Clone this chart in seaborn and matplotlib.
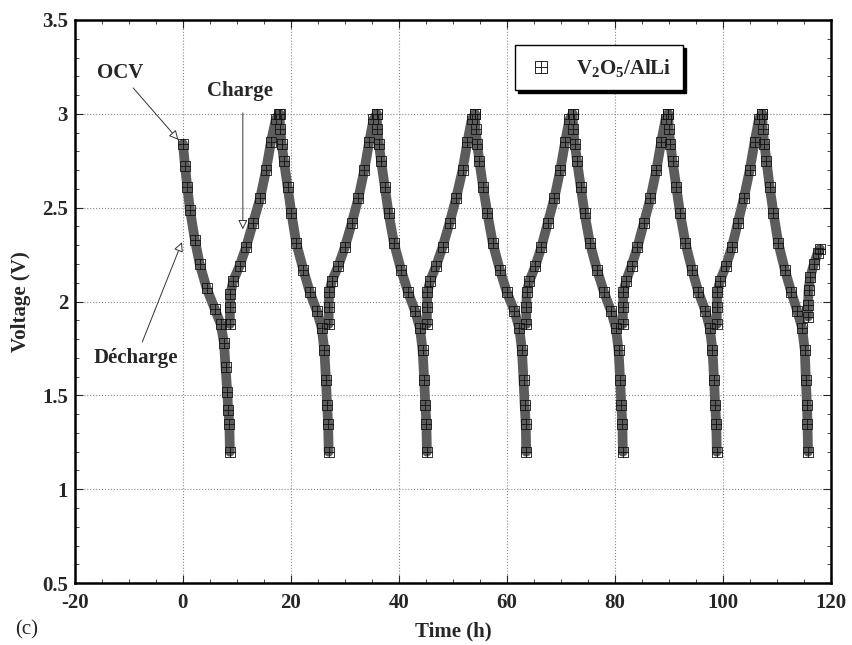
import pandas as pd
import seaborn as sns
import matplotlib.pyplot as plt
from matplotlib.path import Path
from matplotlib.lines import Line2D
from matplotlib.ticker import MultipleLocator

# each inner list = one half cycle (discharge, charge, discharge, ...)
time_h = [
    [0.0, 0.4, 0.8, 1.3, 2.2, 3.1, 4.4, 5.9, 7.0, 7.6, 7.9, 8.2, 8.4, 8.6, 8.7],
    [8.7, 8.7, 8.8, 9.3, 10.5, 11.7, 13.0, 14.3, 15.4, 16.3, 17.2, 17.8],
    [17.9, 18.0, 18.3, 18.7, 19.4, 20.1, 21.0, 22.3, 23.5, 24.8, 25.7, 26.2, 26.5, 26.7, 26.9, 27.0],
    [27.0, 27.0, 27.1, 27.6, 28.8, 30.0, 31.3, 32.5, 33.6, 34.5, 35.3, 35.9],
    [35.9, 36.0, 36.3, 36.7, 37.4, 38.1, 39.1, 40.4, 41.7, 43.0, 43.9, 44.4, 44.7, 44.9, 45.1, 45.2],
    [45.2, 45.2, 45.3, 45.8, 46.9, 48.1, 49.4, 50.6, 51.8, 52.7, 53.5, 54.1],
    [54.1, 54.2, 54.5, 54.9, 55.6, 56.4, 57.4, 58.7, 60.0, 61.4, 62.3, 62.8, 63.1, 63.3, 63.5, 63.6],
    [63.6, 63.6, 63.7, 64.2, 65.3, 66.4, 67.6, 68.8, 69.9, 70.8, 71.6, 72.2],
    [72.2, 72.3, 72.6, 73.0, 73.7, 74.4, 75.4, 76.7, 78.0, 79.3, 80.2, 80.7, 81.0, 81.2, 81.4, 81.5],
    [81.5, 81.5, 81.6, 82.1, 83.1, 84.2, 85.4, 86.6, 87.7, 88.6, 89.4, 89.9],
    [89.9, 90.0, 90.3, 90.7, 91.4, 92.1, 93.1, 94.3, 95.5, 96.8, 97.6, 98.1, 98.4, 98.6, 98.8, 98.9],
    [98.9, 98.9, 99.0, 99.5, 100.6, 101.7, 102.8, 103.9, 105.0, 105.9, 106.7, 107.3],
    [107.3, 107.4, 107.7, 108.1, 108.7, 109.4, 110.3, 111.5, 112.7, 113.8, 114.7, 115.2, 115.4, 115.6, 115.7, 115.8],
    [115.8, 115.8, 115.9, 116.2, 116.9, 117.6, 118.0],
]
voltage_v = [
    [2.84, 2.72, 2.61, 2.49, 2.33, 2.20, 2.07, 1.96, 1.88, 1.78, 1.65, 1.52, 1.42, 1.35, 1.20],
    [1.88, 1.97, 2.04, 2.11, 2.19, 2.29, 2.42, 2.55, 2.70, 2.85, 2.97, 3.00],
    [3.00, 2.92, 2.84, 2.75, 2.61, 2.47, 2.31, 2.17, 2.05, 1.95, 1.86, 1.74, 1.58, 1.45, 1.35, 1.20],
    [1.88, 1.97, 2.05, 2.11, 2.19, 2.29, 2.42, 2.55, 2.70, 2.85, 2.97, 3.00],
    [3.00, 2.92, 2.84, 2.75, 2.61, 2.47, 2.31, 2.17, 2.05, 1.95, 1.86, 1.74, 1.58, 1.45, 1.35, 1.20],
    [1.88, 1.97, 2.05, 2.11, 2.19, 2.29, 2.42, 2.55, 2.70, 2.85, 2.97, 3.00],
    [3.00, 2.92, 2.84, 2.75, 2.61, 2.47, 2.31, 2.17, 2.05, 1.95, 1.86, 1.74, 1.58, 1.45, 1.35, 1.20],
    [1.88, 1.97, 2.05, 2.11, 2.19, 2.29, 2.42, 2.55, 2.70, 2.85, 2.97, 3.00],
    [3.00, 2.92, 2.84, 2.75, 2.61, 2.47, 2.31, 2.17, 2.05, 1.95, 1.86, 1.74, 1.58, 1.45, 1.35, 1.20],
    [1.88, 1.97, 2.05, 2.11, 2.19, 2.29, 2.42, 2.55, 2.70, 2.85, 2.97, 3.00],
    [3.00, 2.92, 2.84, 2.75, 2.61, 2.47, 2.31, 2.17, 2.05, 1.95, 1.86, 1.74, 1.58, 1.45, 1.35, 1.20],
    [1.88, 1.97, 2.05, 2.11, 2.19, 2.29, 2.42, 2.55, 2.70, 2.85, 2.97, 3.00],
    [3.00, 2.92, 2.84, 2.75, 2.61, 2.47, 2.31, 2.17, 2.05, 1.95, 1.86, 1.74, 1.58, 1.45, 1.35, 1.20],
    [1.92, 1.98, 2.06, 2.13, 2.20, 2.26, 2.28],
]

rows = []
for seg, (ts, vs) in enumerate(zip(time_h, voltage_v)):
    for t, v in zip(ts, vs):
        rows.append({'time': t, 'voltage': v, 'segment': seg})
df = pd.DataFrame(rows)

sns.set_style('ticks')
plt.rcParams['font.family'] = ['Liberation Serif']
plt.rcParams['font.weight'] = 'bold'
plt.rcParams['axes.unicode_minus'] = False
plt.rcParams['mathtext.fontset'] = 'custom'
plt.rcParams['mathtext.bf'] = 'Liberation Serif:bold'
plt.rcParams['mathtext.rm'] = 'Liberation Serif:bold'

# square with a cross inside
box_plus = Path([(-1, -1), (1, -1), (1, 1), (-1, 1), (-1, -1), (0, -1), (0, 1), (-1, 0), (1, 0)],
                [Path.MOVETO, Path.LINETO, Path.LINETO, Path.LINETO, Path.CLOSEPOLY,
                 Path.MOVETO, Path.LINETO, Path.MOVETO, Path.LINETO])

fig = plt.figure(figsize=(8.52, 6.45), dpi=100)
ax = fig.add_axes([0.088, 0.096, 0.887, 0.873])

# dense band of measurements
sns.lineplot(data=df, x='time', y='voltage', units='segment', estimator=None, sort=False,
             color='#5c5c5c', lw=7, ax=ax, legend=False)
ax.plot(df['time'], df['voltage'], ls='none', marker=box_plus, ms=7,
        mfc='none', mec='#111111', mew=0.6)

ax.set_xlim(-20, 120)
ax.set_ylim(0.5, 3.5)
ax.xaxis.set_major_locator(MultipleLocator(20))
ax.xaxis.set_minor_locator(MultipleLocator(5))
ax.yaxis.set_minor_locator(MultipleLocator(0.1))
ax.set_yticks([0.5, 1, 1.5, 2, 2.5, 3, 3.5])
ax.set_yticklabels(['0.5', '1', '1.5', '2', '2.5', '3', '3.5'])
ax.tick_params(which='both', direction='in', top=True, right=True, labelsize=15)
ax.tick_params(axis='x', pad=7)
ax.tick_params(axis='y', pad=5)
ax.tick_params(which='major', length=6, width=0.8)
ax.tick_params(which='minor', length=3, width=0.6)
ax.grid(True, which='major', ls=':', color='#888888', lw=0.8)
for s in ax.spines.values():
    s.set_linewidth(1.8)
    s.set_color('black')

ax.set_xlabel('Time (h)', fontsize=15, fontweight='bold', labelpad=6)
ax.set_ylabel('Voltage (V)', fontsize=15, fontweight='bold', labelpad=8)

arrow = dict(arrowstyle='-|>', color='#333333', lw=0.7, fc='white', mutation_scale=14)
ax.annotate('OCV', xy=(-0.5, 2.85), xytext=(-11.7, 3.22), fontsize=15, fontweight='bold',
            ha='center', va='center', arrowprops=arrow)
ax.annotate('', xy=(11.1, 2.37), xytext=(11.1, 3.02), arrowprops=arrow)
ax.text(10.6, 3.12, 'Charge', fontsize=15, fontweight='bold', ha='center', va='center')
ax.annotate('Décharge', xy=(0.0, 2.33), xytext=(-8.7, 1.70), fontsize=15, fontweight='bold',
            ha='center', va='center', arrowprops=arrow)

handle = Line2D([], [], ls='none', marker=box_plus, ms=8, mfc='none', mec='#222222', mew=0.7)
leg = ax.legend([handle], [r'$\mathbf{V_2O_5}$/AlLi'], loc='upper left',
                bbox_to_anchor=(0.582, 0.955), fontsize=15, frameon=True, fancybox=False,
                shadow={'color': 'black', 'alpha': 1}, edgecolor='black', framealpha=1,
                borderpad=0.55, handletextpad=1.0, handlelength=1.4, borderaxespad=0.0)
leg.get_frame().set_linewidth(1.0)

fig.text(0.018, 0.023, '(c)', fontsize=15, fontweight='normal', ha='left', va='center')

fig.savefig('out.png', dpi=100)
